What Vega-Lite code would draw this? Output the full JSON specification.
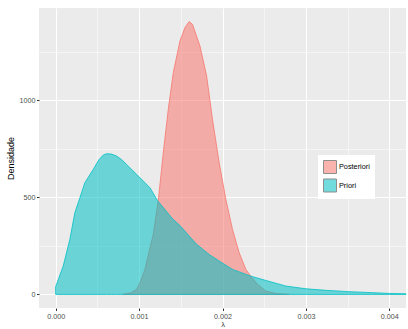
{
  "$schema": "https://vega.github.io/schema/vega-lite/v6.json",
  "width": 367,
  "height": 300,
  "autosize": {"type": "none"},
  "padding": {"left": 39, "top": 8, "right": 2, "bottom": 21},
  "background": "white",
  "config": {
    "view": {"fill": "#EBEBEB", "stroke": null},
    "font": "Liberation Sans",
    "axis": {
      "domain": false,
      "labelFont": "Liberation Sans",
      "labelFontSize": 7.2,
      "labelColor": "#4D4D4D",
      "tickColor": "#333333",
      "tickSize": 2.5,
      "tickWidth": 1,
      "gridColor": "#FFFFFF",
      "titleFont": "Liberation Sans",
      "titleFontSize": 9,
      "titleFontWeight": "normal",
      "titleColor": "#000000"
    }
  },
  "data": {
    "values": [
      {"x": 0.00080, "d": 0, "grupo": "Posteriori"},
      {"x": 0.00090, "d": 8, "grupo": "Posteriori"},
      {"x": 0.00097, "d": 26, "grupo": "Posteriori"},
      {"x": 0.00101, "d": 60, "grupo": "Posteriori"},
      {"x": 0.00107, "d": 129, "grupo": "Posteriori"},
      {"x": 0.00113, "d": 240, "grupo": "Posteriori"},
      {"x": 0.00117, "d": 310, "grupo": "Posteriori"},
      {"x": 0.00123, "d": 484, "grupo": "Posteriori"},
      {"x": 0.00129, "d": 730, "grupo": "Posteriori"},
      {"x": 0.00135, "d": 954, "grupo": "Posteriori"},
      {"x": 0.00141, "d": 1143, "grupo": "Posteriori"},
      {"x": 0.00149, "d": 1306, "grupo": "Posteriori"},
      {"x": 0.00155, "d": 1375, "grupo": "Posteriori"},
      {"x": 0.00160, "d": 1406, "grupo": "Posteriori"},
      {"x": 0.00164, "d": 1392, "grupo": "Posteriori"},
      {"x": 0.00173, "d": 1280, "grupo": "Posteriori"},
      {"x": 0.00181, "d": 1125, "grupo": "Posteriori"},
      {"x": 0.00188, "d": 902, "grupo": "Posteriori"},
      {"x": 0.00196, "d": 679, "grupo": "Posteriori"},
      {"x": 0.00204, "d": 490, "grupo": "Posteriori"},
      {"x": 0.00212, "d": 335, "grupo": "Posteriori"},
      {"x": 0.00220, "d": 215, "grupo": "Posteriori"},
      {"x": 0.00228, "d": 129, "grupo": "Posteriori"},
      {"x": 0.00234, "d": 94, "grupo": "Posteriori"},
      {"x": 0.00242, "d": 52, "grupo": "Posteriori"},
      {"x": 0.00252, "d": 17, "grupo": "Posteriori"},
      {"x": 0.00264, "d": 5, "grupo": "Posteriori"},
      {"x": 0.00280, "d": 0, "grupo": "Posteriori"},
      {"x": 0.00000, "d": 40, "grupo": "Priori"},
      {"x": 0.00003, "d": 75, "grupo": "Priori"},
      {"x": 0.00009, "d": 146, "grupo": "Priori"},
      {"x": 0.00017, "d": 284, "grupo": "Priori"},
      {"x": 0.00023, "d": 421, "grupo": "Priori"},
      {"x": 0.00029, "d": 498, "grupo": "Priori"},
      {"x": 0.00035, "d": 576, "grupo": "Priori"},
      {"x": 0.00045, "d": 644, "grupo": "Priori"},
      {"x": 0.00052, "d": 695, "grupo": "Priori"},
      {"x": 0.00057, "d": 718, "grupo": "Priori"},
      {"x": 0.00061, "d": 725, "grupo": "Priori"},
      {"x": 0.00067, "d": 723, "grupo": "Priori"},
      {"x": 0.00073, "d": 713, "grupo": "Priori"},
      {"x": 0.00079, "d": 695, "grupo": "Priori"},
      {"x": 0.00085, "d": 670, "grupo": "Priori"},
      {"x": 0.00097, "d": 619, "grupo": "Priori"},
      {"x": 0.00113, "d": 550, "grupo": "Priori"},
      {"x": 0.00122, "d": 484, "grupo": "Priori"},
      {"x": 0.00140, "d": 390, "grupo": "Priori"},
      {"x": 0.00149, "d": 355, "grupo": "Priori"},
      {"x": 0.00160, "d": 301, "grupo": "Priori"},
      {"x": 0.00169, "d": 258, "grupo": "Priori"},
      {"x": 0.00184, "d": 206, "grupo": "Priori"},
      {"x": 0.00196, "d": 172, "grupo": "Priori"},
      {"x": 0.00212, "d": 129, "grupo": "Priori"},
      {"x": 0.00234, "d": 94, "grupo": "Priori"},
      {"x": 0.00252, "d": 72, "grupo": "Priori"},
      {"x": 0.00276, "d": 43, "grupo": "Priori"},
      {"x": 0.00300, "d": 29, "grupo": "Priori"},
      {"x": 0.00324, "d": 21, "grupo": "Priori"},
      {"x": 0.00352, "d": 14, "grupo": "Priori"},
      {"x": 0.00380, "d": 9, "grupo": "Priori"},
      {"x": 0.00400, "d": 5, "grupo": "Priori"},
      {"x": 0.00420, "d": 3, "grupo": "Priori"}
    ]
  },
  "encoding": {
    "x": {
      "field": "x",
      "type": "quantitative",
      "title": "λ",
      "scale": {"domain": [-0.0002, 0.0042], "nice": false, "zero": false},
      "axis": {
        "values": [0, 0.0005, 0.001, 0.0015, 0.002, 0.0025, 0.003, 0.0035, 0.004],
        "format": ".3f",
        "labelExpr": "round(datum.value * 10000) % 10 === 0 ? datum.label : ''",
        "labelPadding": 2,
        "titlePadding": 1,
        "titleFontSize": 7.5,
        "titleColor": "#333333",
        "tickOpacity": {"condition": {"test": "round(datum.value * 10000) % 10 !== 0", "value": 0}, "value": 1},
        "gridWidth": {"condition": {"test": "round(datum.value * 10000) % 10 !== 0", "value": 0.5}, "value": 1}
      }
    },
    "y": {
      "field": "d",
      "type": "quantitative",
      "title": "Densidade",
      "stack": null,
      "scale": {"domain": [-70, 1476], "nice": false, "zero": false},
      "axis": {
        "values": [0, 250, 500, 750, 1000, 1250],
        "format": "d",
        "labelExpr": "datum.value % 500 === 0 ? datum.label : ''",
        "labelPadding": 1.5,
        "titlePadding": 4,
        "tickOpacity": {"condition": {"test": "datum.value % 500 !== 0", "value": 0}, "value": 1},
        "gridWidth": {"condition": {"test": "datum.value % 500 !== 0", "value": 0.5}, "value": 1}
      }
    },
    "fill": {
      "field": "grupo",
      "type": "nominal",
      "scale": {"domain": ["Posteriori", "Priori"], "range": ["#F8766D", "#00BFC4"]},
      "legend": {
        "title": null,
        "orient": "none",
        "legendX": 279,
        "legendY": 147,
        "fillColor": "#FFFFFF",
        "padding": 5,
        "symbolType": "square",
        "symbolSize": 169,
        "symbolStrokeColor": "#333333",
        "symbolStrokeWidth": 1,
        "symbolOpacity": 0.55,
        "rowPadding": 0.5,
        "labelOffset": 2,
        "labelFont": "Liberation Sans",
        "labelFontSize": 7.3,
        "labelColor": "#000000"
      }
    }
  },
  "layer": [
    {
      "transform": [{"filter": "datum.grupo === 'Posteriori'"}],
      "mark": {"type": "area", "fillOpacity": 0.55, "stroke": "#F8766D", "strokeWidth": 0.8, "strokeOpacity": 1}
    },
    {
      "transform": [{"filter": "datum.grupo === 'Priori'"}],
      "mark": {"type": "area", "fillOpacity": 0.55, "stroke": "#00BFC4", "strokeWidth": 0.8, "strokeOpacity": 1}
    }
  ]
}
